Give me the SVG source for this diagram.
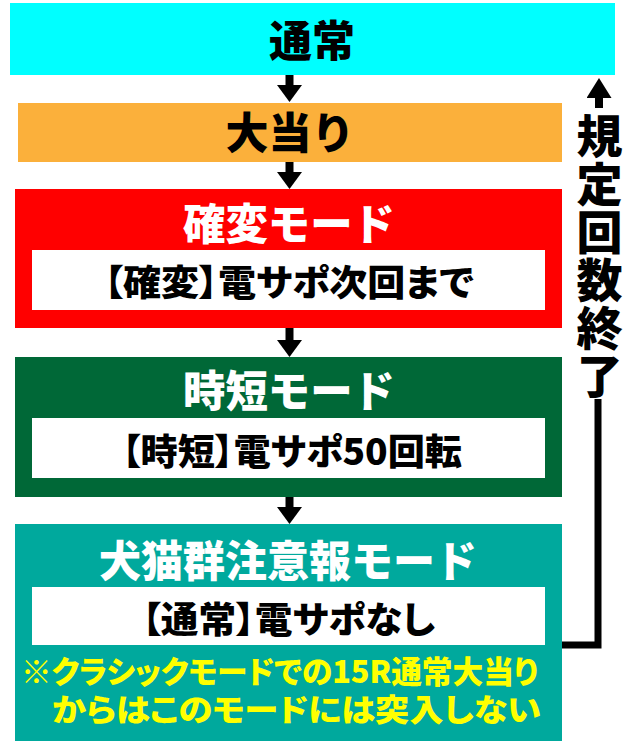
<svg xmlns="http://www.w3.org/2000/svg" width="640" height="745" viewBox="0 0 640 745">
<style>
text { font-family: "Noto Sans CJK JP", "Noto Sans CJK SC", sans-serif; font-weight: 900; text-anchor: middle; }
.title { font-size: 43px; fill: #FFFFFF; }
.dark { font-size: 43px; fill: #000000; }
.sub { font-size: 36px; fill: #000000; font-feature-settings: "palt" 1; }
.note { font-size: 31px; fill: #FFFF00; font-feature-settings: "palt" 1; }
.vert { font-size: 46px; fill: #000000; writing-mode: vertical-rl; text-anchor: start; letter-spacing: 2px; }
.inner { fill: #FFFFFF; }
.conn { stroke: #000000; fill: none; stroke-linecap: butt; stroke-linejoin: miter; }
</style>
<defs>
<marker id="arrowDown" markerUnits="userSpaceOnUse" markerWidth="18" markerHeight="26" refX="0" refY="12.5" orient="auto">
<path d="M0,0 L17,12.5 L0,25 z" fill="#000000"/>
</marker>
<marker id="arrowUp" markerUnits="userSpaceOnUse" markerWidth="21" markerHeight="26" refX="0" refY="12.5" orient="auto">
<path d="M0,0 L20,12.5 L0,25 z" fill="#000000"/>
</marker>
</defs>

<g id="node-normal">
<rect x="10" y="3" width="605" height="72" fill="#00FFFF"/>
<text class="dark" x="312" y="57">通常</text>
</g>

<g id="node-jackpot">
<rect x="18" y="103" width="544" height="59" fill="#FBB03B"/>
<text class="dark" x="290" y="149" font-size="42">大当り</text>
</g>

<g id="node-kakuhen">
<rect x="15" y="189" width="547" height="139" fill="#FF0000"/>
<text class="title" x="289" y="240" textLength="212" lengthAdjust="spacingAndGlyphs">確変モード</text>
<rect class="inner" x="32" y="250" width="513" height="60"/>
<text class="sub" x="289" y="296" textLength="370" lengthAdjust="spacingAndGlyphs">【確変】電サポ次回まで</text>
</g>

<g id="node-jitan">
<rect x="15" y="357" width="547" height="140" fill="#006837"/>
<text class="title" x="289" y="407" textLength="212" lengthAdjust="spacingAndGlyphs">時短モード</text>
<rect class="inner" x="32" y="418" width="513" height="60"/>
<text class="sub" x="292" y="465" textLength="340" lengthAdjust="spacingAndGlyphs">【時短】電サポ50回転</text>
</g>

<g id="node-inuneko">
<rect x="15" y="524" width="547" height="217" fill="#00A99D"/>
<text class="title" x="288" y="577" textLength="378" lengthAdjust="spacingAndGlyphs">犬猫群注意報モード</text>
<rect class="inner" x="32" y="587" width="513" height="58"/>
<text class="sub" x="288.5" y="633" textLength="293" lengthAdjust="spacingAndGlyphs">【通常】電サポなし</text>
<text class="note"><tspan x="279.5" y="683" textLength="517" lengthAdjust="spacingAndGlyphs">※クラシックモードでの15R通常大当り</tspan><tspan x="296.5" y="721" textLength="489" lengthAdjust="spacingAndGlyphs">からはこのモードには突入しない</tspan></text>
</g>

<g id="connectors">
<line class="conn" x1="289.5" y1="75" x2="289.5" y2="85" stroke-width="8" marker-end="url(#arrowDown)"/>
<line class="conn" x1="289.5" y1="162" x2="289.5" y2="172" stroke-width="8" marker-end="url(#arrowDown)"/>
<line class="conn" x1="289.5" y1="328" x2="289.5" y2="340" stroke-width="8" marker-end="url(#arrowDown)"/>
<line class="conn" x1="289.5" y1="497" x2="289.5" y2="507" stroke-width="8" marker-end="url(#arrowDown)"/>
<polyline class="conn" points="562,645 598,645 598,399" stroke-width="7"/>
<line class="conn" x1="599" y1="108" x2="599" y2="98" stroke-width="8" marker-end="url(#arrowUp)"/>
<text class="vert" x="599.5" y="113">規定回数終了</text>
</g>
</svg>
